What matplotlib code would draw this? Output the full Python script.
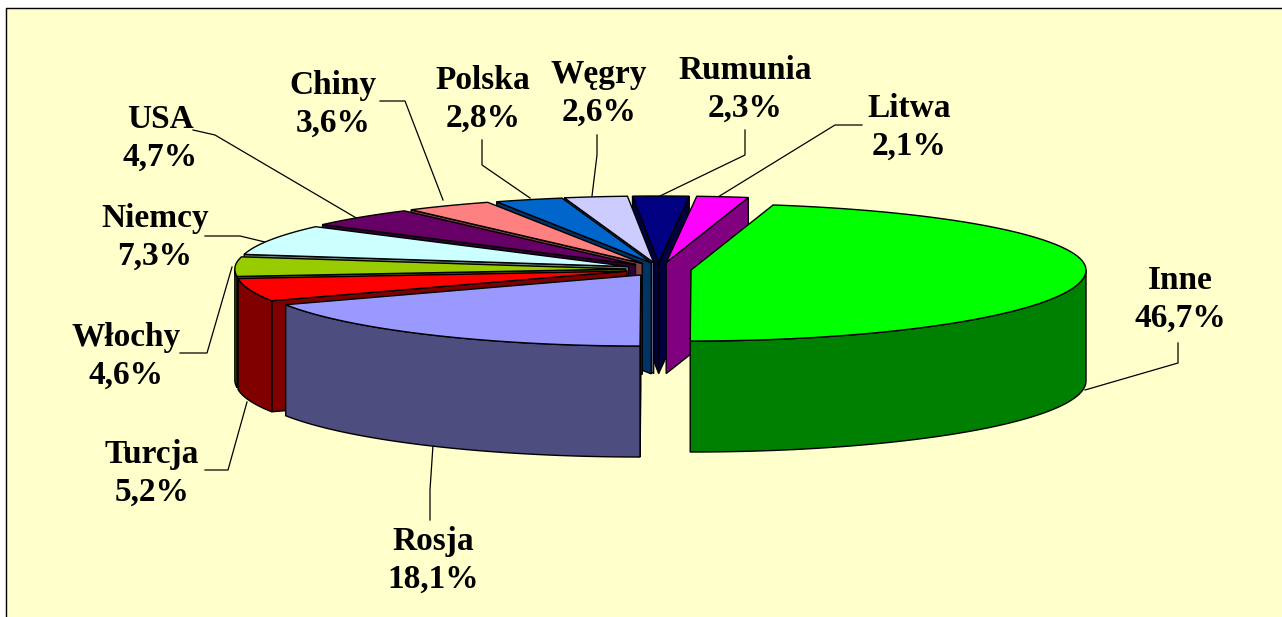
import numpy as np
import matplotlib
matplotlib.use('Agg')
import matplotlib.pyplot as plt
from matplotlib.patches import Polygon, Rectangle

# Udzial krajow (%)
names = ['Inne', 'Rosja', 'Turcja', 'Włochy', 'Niemcy', 'USA', 'Chiny', 'Polska', 'Węgry', 'Rumunia', 'Litwa']
values = [46.7, 18.1, 5.2, 4.6, 7.3, 4.7, 3.6, 2.8, 2.6, 2.3, 2.1]
colors = ['#00ff00', '#9999ff', '#ff0000', '#99cc00', '#ccffff', '#660066',
          '#ff8080', '#0066cc', '#ccccff', '#000080', '#ff00ff']

# Geometria "3D"
cx, cy = 658.5, 269.3
rx_right, rx_left = 395, 391
ry_front, ry_back = 71, 66.5
depth = 111
ex, ey = 32.7, 6.8
start_angle = 12
nudge = {'Polska': 3, 'Litwa': 3}

label_pos = {'Inne': (1180, 299), 'Rosja': (433, 560), 'Turcja': (152, 473), 'Włochy': (126, 356),
             'Niemcy': (155, 237), 'USA': (160, 138), 'Chiny': (333, 104), 'Polska': (483, 99),
             'Węgry': (599, 93), 'Rumunia': (745, 89), 'Litwa': (909, 127)}
leaders = [[(1178, 343), (1178, 363), (1085, 390)],
           [(430, 520), (430, 490), (433, 445)],
           [(205, 470), (228, 470), (247, 402)],
           [(180, 353), (207, 353), (232, 267)],
           [(205, 236), (240, 236), (265, 242)],
           [(193, 130), (215, 135), (358, 219)],
           [(380, 101), (405, 101), (443, 200)],
           [(482, 140), (482, 165), (530, 198)],
           [(597, 135), (597, 155), (592, 196)],
           [(745, 130), (745, 155), (660, 196)],
           [(862, 125), (835, 125), (718, 197)]]

fig = plt.figure(figsize=(12.82, 6.17), dpi=100, facecolor='white')
ax = fig.add_axes([0, 0, 1, 1])
ax.set_xlim(0, 1282)
ax.set_ylim(617, 0)
ax.axis('off')

ax.add_patch(Rectangle((5, 7), 1277, 610, facecolor='#ffffcc', edgecolor='none', zorder=0))
ax.plot([5.5, 5.5, 1282], [617, 7.5, 7.5], color='black', lw=1.0, zorder=1)

# katy kazdego wycinka (zgodnie ze wskazowkami zegara od gory)
spans = np.array(values) * 3.6
starts = start_angle + np.concatenate(([0], np.cumsum(spans)[:-1]))
ends = starts + spans


def rim(ax0, ay0, a):
    t = np.radians(a)
    s, c = np.sin(t), np.cos(t)
    return ax0 + np.where(s > 0, rx_right, rx_left) * s, ay0 - np.where(c > 0, ry_back, ry_front) * c


def side_color(c):
    rgb = np.array(matplotlib.colors.to_rgb(c)) * 0.5
    return rgb


def draw_slice(i):
    mid = np.radians((starts[i] + ends[i]) / 2)
    ax0 = cx + ex * np.sin(mid) + nudge.get(names[i], 0)
    ay0 = cy - ey * np.cos(mid)
    dark = side_color(colors[i])
    z = draw_slice.z

    # sciany radialne
    walls = []
    if np.sin(np.radians(starts[i])) < -0.001:
        walls.append(starts[i])
    if np.sin(np.radians(ends[i])) > 0.001:
        walls.append(ends[i])
    for a in walls:
        px, py = rim(ax0, ay0, a)
        ax.add_patch(Polygon([(ax0, ay0), (px, py), (px, py + depth), (ax0, ay0 + depth)],
                             facecolor=dark, edgecolor='black', lw=1.0, zorder=z))

    # sciana zewnetrzna
    a0, a1 = max(starts[i], 90), min(ends[i], 270)
    if a1 > a0:
        aa = np.linspace(a0, a1, 60)
        xs, ys = rim(ax0, ay0, aa)
        pts = list(zip(xs, ys)) + list(zip(xs[::-1], ys[::-1] + depth))
        ax.add_patch(Polygon(pts, facecolor=dark, edgecolor='black', lw=1.0, zorder=z))

    # wierzch
    aa = np.linspace(starts[i], ends[i], 80)
    xs, ys = rim(ax0, ay0, aa)
    pts = [(ax0, ay0)] + list(zip(xs, ys))
    ax.add_patch(Polygon(pts, facecolor=colors[i], edgecolor='black', lw=1.0, zorder=z))
    draw_slice.z += 1


draw_slice.z = 2
# od tylu do przodu
order = sorted(range(len(names)), key=lambda k: -np.cos(np.radians((starts[k] + ends[k]) / 2)))
for k in order:
    draw_slice(k)

for pts in leaders:
    xs, ys = zip(*pts)
    ax.plot(xs, ys, color='black', lw=0.9, zorder=1.5)

for name, val in zip(names, values):
    txt = f"{name}\n{val:.1f}%".replace('.', ',')
    x, y = label_pos[name]
    ax.text(x, y, txt, ha='center', va='center', family='Liberation Serif', weight='bold',
            fontsize=24, linespacing=1.29, color='black', zorder=50)

plt.savefig('out.png', dpi=100)
